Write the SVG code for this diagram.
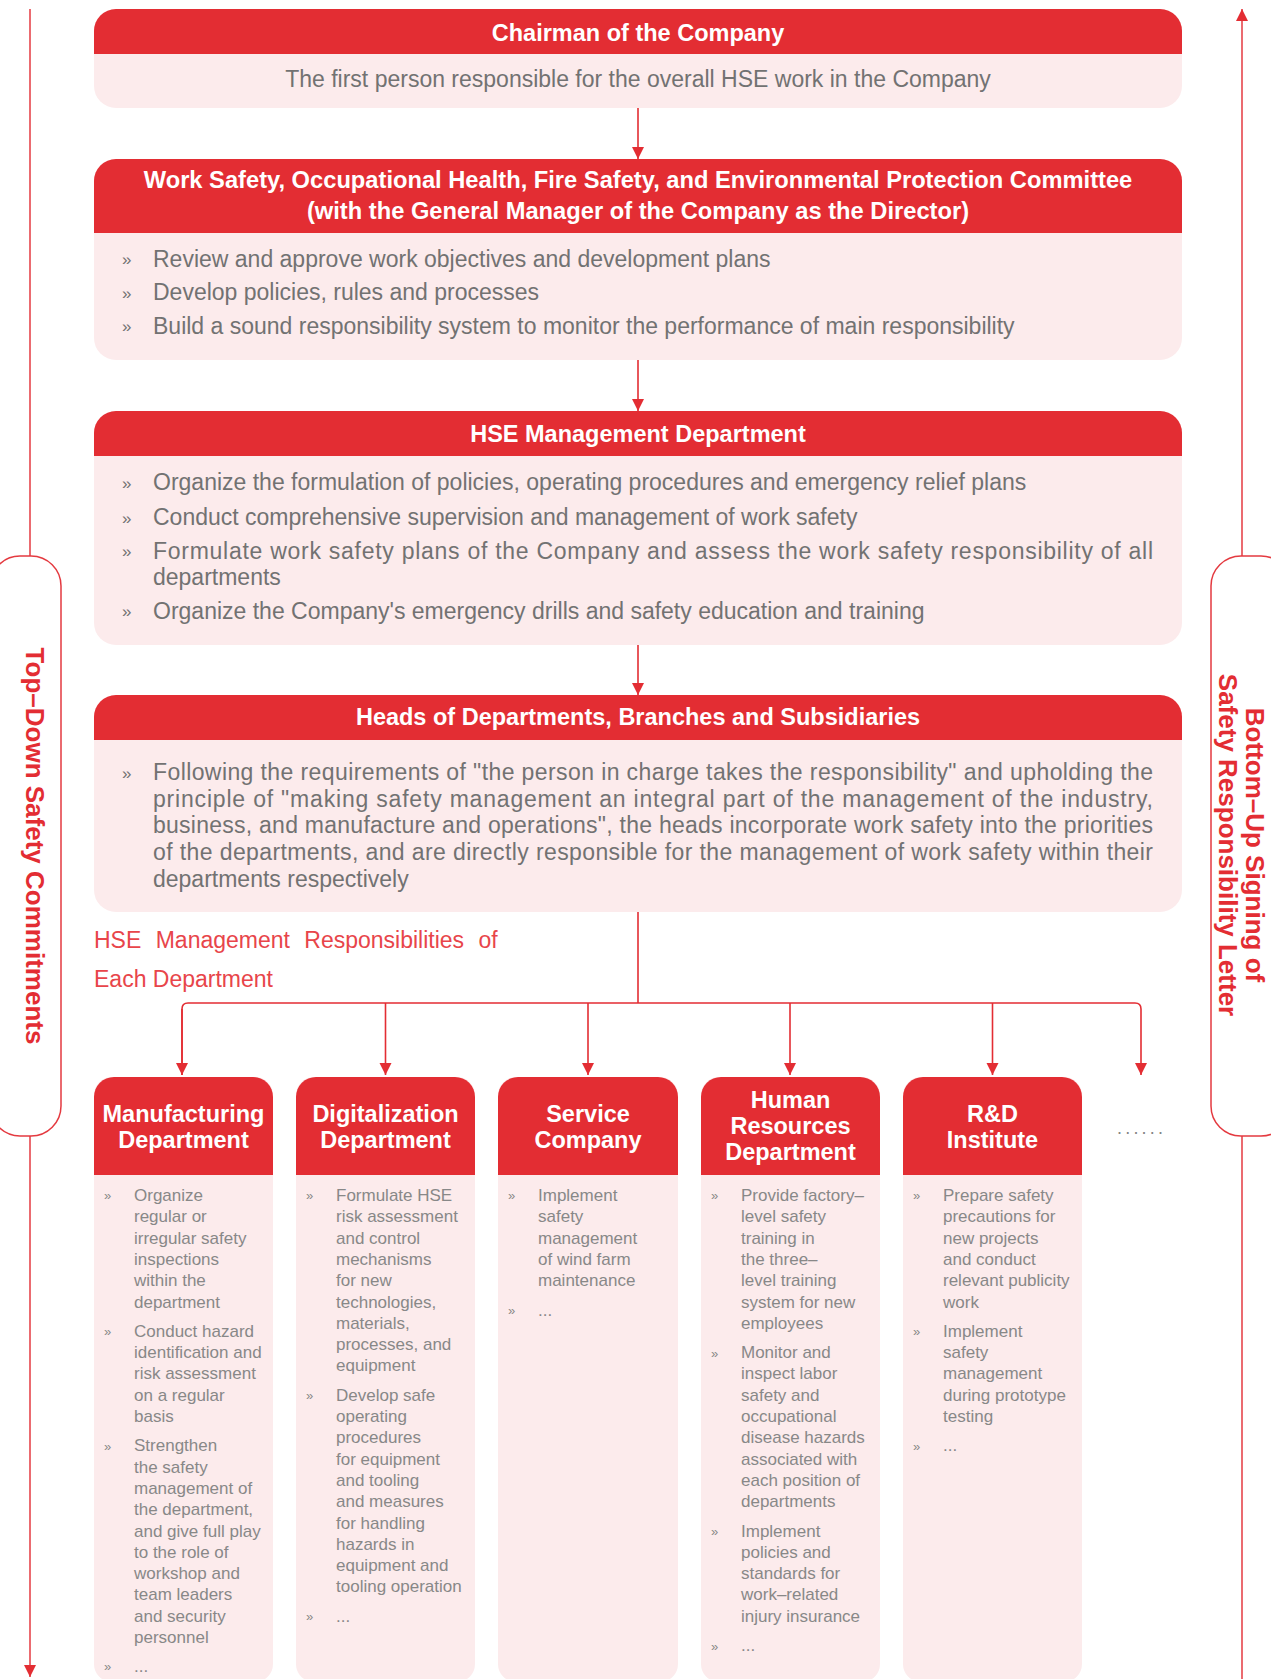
<svg xmlns="http://www.w3.org/2000/svg" width="1271" height="1679" viewBox="0 0 1271 1679">
<style>
.pk{fill:#FCEBEC}
.rd{fill:#E32D33}
.ht{font-family:"Liberation Sans",Arial,sans-serif;font-weight:bold;font-size:23.5px;fill:#fff;text-anchor:middle}
.bt{font-family:"Liberation Sans",Arial,sans-serif;font-size:23px;fill:#727272}
.bl{font-family:"Liberation Sans",Arial,sans-serif;font-size:17px;fill:#727272}
.dt{font-family:"Liberation Sans",Arial,sans-serif;font-size:17px;fill:#888888}
.db{font-family:"Liberation Sans",Arial,sans-serif;font-size:13px;fill:#888888}
.side{font-family:"Liberation Sans",Arial,sans-serif;font-weight:bold;font-size:26px;fill:#E32D33;text-anchor:middle}
.lbl{font-family:"Liberation Sans",Arial,sans-serif;font-size:23px;fill:#E8454A}
.ln{stroke:#E32D33;stroke-width:1.6;fill:none}
.rail{stroke:#E43A40;stroke-width:1.5;fill:none}
</style>
<defs>
<marker id="ah" markerUnits="userSpaceOnUse" markerWidth="12" markerHeight="14" refX="12" refY="6" orient="auto">
<path d="M0,0 L12,6 L0,12 Z" fill="#E32D33"/>
</marker>
</defs>

<g id="rails">
<line class="rail" x1="30" y1="9" x2="30" y2="1677" marker-end="url(#ah)"/>
<line class="rail" x1="1242" y1="1679" x2="1242" y2="9" marker-end="url(#ah)"/>
</g>
<g id="left-pill">
<rect x="-10" y="556" width="71" height="580" rx="30" ry="30" fill="#fff" stroke="#E43A40" stroke-width="1.5"/>
<text class="side" transform="translate(26,846) rotate(90)">Top–Down Safety Commitments</text>
</g>
<g id="right-pill">
<rect x="1211" y="556" width="80" height="580" rx="30" ry="30" fill="#fff" stroke="#E43A40" stroke-width="1.5"/>
<text class="side" transform="translate(1246,845) rotate(90)">Bottom–Up Signing of</text>
<text class="side" transform="translate(1219,845) rotate(90)">Safety Responsibility Letter</text>
</g>

<g id="connectors">
<line class="ln" x1="638" y1="108" x2="638" y2="159" marker-end="url(#ah)"/>
<line class="ln" x1="638" y1="360" x2="638" y2="411" marker-end="url(#ah)"/>
<line class="ln" x1="638" y1="645" x2="638" y2="695" marker-end="url(#ah)"/>
<path class="ln" d="M638,912 V1003"/>
<path class="ln" d="M182,1075 V1009 Q182,1003 188,1003 H1135 Q1141,1003 1141,1009 V1075" marker-end="url(#ah)"/>
<path class="ln" d="M182,1009 V1075" marker-end="url(#ah)"/>
<line class="ln" x1="385.5" y1="1003" x2="385.5" y2="1075" marker-end="url(#ah)"/>
<line class="ln" x1="588" y1="1003" x2="588" y2="1075" marker-end="url(#ah)"/>
<line class="ln" x1="790" y1="1003" x2="790" y2="1075" marker-end="url(#ah)"/>
<line class="ln" x1="992.5" y1="1003" x2="992.5" y2="1075" marker-end="url(#ah)"/>
</g>

<g id="chairman">
<rect class="pk" x="94" y="9" width="1088" height="99" rx="22"/>
<path class="rd" d="M94,31 A22,22 0 0 1 116,9 H1160 A22,22 0 0 1 1182,31 V54 H94 Z"/>
<text class="ht" x="638" y="41">Chairman of the Company</text>
<text class="bt" x="638" y="87" text-anchor="middle">The first person responsible for the overall HSE work in the Company</text>
</g>

<g id="committee">
<rect class="pk" x="94" y="159" width="1088" height="201" rx="22"/>
<path class="rd" d="M94,181 A22,22 0 0 1 116,159 H1160 A22,22 0 0 1 1182,181 V233 H94 Z"/>
<text class="ht" x="638" y="188" style="font-size:23.7px">Work Safety, Occupational Health, Fire Safety, and Environmental Protection Committee</text>
<text class="ht" x="638" y="219" style="font-size:23.7px">(with the General Manager of the Company as the Director)</text>
<text class="bl" x="122" y="265">»</text><text class="bt" x="153" y="266.5">Review and approve work objectives and development plans</text>
<text class="bl" x="122" y="298.5">»</text><text class="bt" x="153" y="300">Develop policies, rules and processes</text>
<text class="bl" x="122" y="332">»</text><text class="bt" x="153" y="333.5">Build a sound responsibility system to monitor the performance of main responsibility</text>
</g>

<g id="hse-dept">
<rect class="pk" x="94" y="411" width="1088" height="234" rx="22"/>
<path class="rd" d="M94,433 A22,22 0 0 1 116,411 H1160 A22,22 0 0 1 1182,433 V456 H94 Z"/>
<text class="ht" x="638" y="442">HSE Management Department</text>
<text class="bl" x="122" y="488.5">»</text><text class="bt" x="153" y="490">Organize the formulation of policies, operating procedures and emergency relief plans</text>
<text class="bl" x="122" y="523.5">»</text><text class="bt" x="153" y="525">Conduct comprehensive supervision and management of work safety</text>
<text class="bl" x="122" y="557">»</text><text class="bt" x="153" y="558.5" textLength="1000">Formulate work safety plans of the Company and assess the work safety responsibility of all</text>
<text class="bt" x="153" y="585">departments</text>
<text class="bl" x="122" y="617">»</text><text class="bt" x="153" y="618.5">Organize the Company's emergency drills and safety education and training</text>
</g>

<g id="heads">
<rect class="pk" x="94" y="695" width="1088" height="217" rx="22"/>
<path class="rd" d="M94,717 A22,22 0 0 1 116,695 H1160 A22,22 0 0 1 1182,717 V740 H94 Z"/>
<text class="ht" x="638" y="725">Heads of Departments, Branches and Subsidiaries</text>
<text class="bl" x="122" y="778.5">»</text>
<text class="bt" x="153" y="780" textLength="1000">Following the requirements of "the person in charge takes the responsibility" and upholding the</text>
<text class="bt" x="153" y="806.7" textLength="1000">principle of "making safety management an integral part of the management of the industry,</text>
<text class="bt" x="153" y="833.3" textLength="1000">business, and manufacture and operations", the heads incorporate work safety into the priorities</text>
<text class="bt" x="153" y="860" textLength="1000">of the departments, and are directly responsible for the management of work safety within their</text>
<text class="bt" x="153" y="886.7">departments respectively</text>
</g>

<g id="label">
<text class="lbl" x="94" y="948" word-spacing="8">HSE Management Responsibilities of</text>
<text class="lbl" x="94" y="987">Each Department</text>
</g>

<g id="manufacturing">
<rect class="pk" x="94" y="1077" width="179" height="605" rx="18"/>
<path class="rd" d="M94,1097 A20,20 0 0 1 114,1077 H253 A20,20 0 0 1 273,1097 V1175 H94 Z"/>
<text class="ht" x="183.5" y="1122">Manufacturing</text>
<text class="ht" x="183.5" y="1148">Department</text>
<text class="db" x="104" y="1200">»</text>
<text class="dt" x="134" y="1201"><tspan x="134">Organize</tspan><tspan x="134" dy="21.3">regular or</tspan><tspan x="134" dy="21.3">irregular safety</tspan><tspan x="134" dy="21.3">inspections</tspan><tspan x="134" dy="21.3">within the</tspan><tspan x="134" dy="21.3">department</tspan></text>
<text class="db" x="104" y="1336">»</text>
<text class="dt" x="134" y="1336.8"><tspan x="134">Conduct hazard</tspan><tspan x="134" dy="21.3">identification and</tspan><tspan x="134" dy="21.3">risk assessment</tspan><tspan x="134" dy="21.3">on a regular</tspan><tspan x="134" dy="21.3">basis</tspan></text>
<text class="db" x="104" y="1450.5">»</text>
<text class="dt" x="134" y="1451.3"><tspan x="134">Strengthen</tspan><tspan x="134" dy="21.3">the safety</tspan><tspan x="134" dy="21.3">management of</tspan><tspan x="134" dy="21.3">the department,</tspan><tspan x="134" dy="21.3">and give full play</tspan><tspan x="134" dy="21.3">to the role of</tspan><tspan x="134" dy="21.3">workshop and</tspan><tspan x="134" dy="21.3">team leaders</tspan><tspan x="134" dy="21.3">and security</tspan><tspan x="134" dy="21.3">personnel</tspan></text>
<text class="db" x="104" y="1671">»</text>
<text class="dt" x="134" y="1672">...</text>
</g>

<g id="digitalization">
<rect class="pk" x="296" y="1077" width="179" height="605" rx="18"/>
<path class="rd" d="M296,1097 A20,20 0 0 1 316,1077 H455 A20,20 0 0 1 475,1097 V1175 H296 Z"/>
<text class="ht" x="385.5" y="1122">Digitalization</text>
<text class="ht" x="385.5" y="1148">Department</text>
<text class="db" x="306" y="1200">»</text>
<text class="dt" x="336" y="1201"><tspan x="336">Formulate HSE</tspan><tspan x="336" dy="21.3">risk assessment</tspan><tspan x="336" dy="21.3">and control</tspan><tspan x="336" dy="21.3">mechanisms</tspan><tspan x="336" dy="21.3">for new</tspan><tspan x="336" dy="21.3">technologies,</tspan><tspan x="336" dy="21.3">materials,</tspan><tspan x="336" dy="21.3">processes, and</tspan><tspan x="336" dy="21.3">equipment</tspan></text>
<text class="db" x="306" y="1400">»</text>
<text class="dt" x="336" y="1400.7"><tspan x="336">Develop safe</tspan><tspan x="336" dy="21.3">operating</tspan><tspan x="336" dy="21.3">procedures</tspan><tspan x="336" dy="21.3">for equipment</tspan><tspan x="336" dy="21.3">and tooling</tspan><tspan x="336" dy="21.3">and measures</tspan><tspan x="336" dy="21.3">for handling</tspan><tspan x="336" dy="21.3">hazards in</tspan><tspan x="336" dy="21.3">equipment and</tspan><tspan x="336" dy="21.3">tooling operation</tspan></text>
<text class="db" x="306" y="1621">»</text>
<text class="dt" x="336" y="1621.7">...</text>
</g>

<g id="service">
<rect class="pk" x="498" y="1077" width="180" height="605" rx="18"/>
<path class="rd" d="M498,1097 A20,20 0 0 1 518,1077 H658 A20,20 0 0 1 678,1097 V1175 H498 Z"/>
<text class="ht" x="588" y="1122">Service</text>
<text class="ht" x="588" y="1148">Company</text>
<text class="db" x="508" y="1200">»</text>
<text class="dt" x="538" y="1201"><tspan x="538">Implement</tspan><tspan x="538" dy="21.3">safety</tspan><tspan x="538" dy="21.3">management</tspan><tspan x="538" dy="21.3">of wind farm</tspan><tspan x="538" dy="21.3">maintenance</tspan></text>
<text class="db" x="508" y="1315">»</text>
<text class="dt" x="538" y="1315.5">...</text>
</g>

<g id="hr">
<rect class="pk" x="701" y="1077" width="179" height="605" rx="18"/>
<path class="rd" d="M701,1097 A20,20 0 0 1 721,1077 H860 A20,20 0 0 1 880,1097 V1175 H701 Z"/>
<text class="ht" x="790.5" y="1108">Human</text>
<text class="ht" x="790.5" y="1134">Resources</text>
<text class="ht" x="790.5" y="1160">Department</text>
<text class="db" x="711" y="1200">»</text>
<text class="dt" x="741" y="1201"><tspan x="741">Provide factory–</tspan><tspan x="741" dy="21.3">level safety</tspan><tspan x="741" dy="21.3">training in</tspan><tspan x="741" dy="21.3">the three–</tspan><tspan x="741" dy="21.3">level training</tspan><tspan x="741" dy="21.3">system for new</tspan><tspan x="741" dy="21.3">employees</tspan></text>
<text class="db" x="711" y="1357.5">»</text>
<text class="dt" x="741" y="1358.1"><tspan x="741">Monitor and</tspan><tspan x="741" dy="21.3">inspect labor</tspan><tspan x="741" dy="21.3">safety and</tspan><tspan x="741" dy="21.3">occupational</tspan><tspan x="741" dy="21.3">disease hazards</tspan><tspan x="741" dy="21.3">associated with</tspan><tspan x="741" dy="21.3">each position of</tspan><tspan x="741" dy="21.3">departments</tspan></text>
<text class="db" x="711" y="1536">»</text>
<text class="dt" x="741" y="1536.5"><tspan x="741">Implement</tspan><tspan x="741" dy="21.3">policies and</tspan><tspan x="741" dy="21.3">standards for</tspan><tspan x="741" dy="21.3">work–related</tspan><tspan x="741" dy="21.3">injury insurance</tspan></text>
<text class="db" x="711" y="1650.5">»</text>
<text class="dt" x="741" y="1651">...</text>
</g>

<g id="rnd">
<rect class="pk" x="903" y="1077" width="179" height="605" rx="18"/>
<path class="rd" d="M903,1097 A20,20 0 0 1 923,1077 H1062 A20,20 0 0 1 1082,1097 V1175 H903 Z"/>
<text class="ht" x="992.5" y="1122">R&amp;D</text>
<text class="ht" x="992.5" y="1148">Institute</text>
<text class="db" x="913" y="1200">»</text>
<text class="dt" x="943" y="1201"><tspan x="943">Prepare safety</tspan><tspan x="943" dy="21.3">precautions for</tspan><tspan x="943" dy="21.3">new projects</tspan><tspan x="943" dy="21.3">and conduct</tspan><tspan x="943" dy="21.3">relevant publicity</tspan><tspan x="943" dy="21.3">work</tspan></text>
<text class="db" x="913" y="1336">»</text>
<text class="dt" x="943" y="1336.8"><tspan x="943">Implement</tspan><tspan x="943" dy="21.3">safety</tspan><tspan x="943" dy="21.3">management</tspan><tspan x="943" dy="21.3">during prototype</tspan><tspan x="943" dy="21.3">testing</tspan></text>
<text class="db" x="913" y="1450.5">»</text>
<text class="dt" x="943" y="1451.3">...</text>
</g>

<g id="more">
<text x="1117" y="1134" font-family="Liberation Sans, Arial, sans-serif" font-size="18" letter-spacing="3.2" fill="#858585">......</text>
</g>
</svg>
